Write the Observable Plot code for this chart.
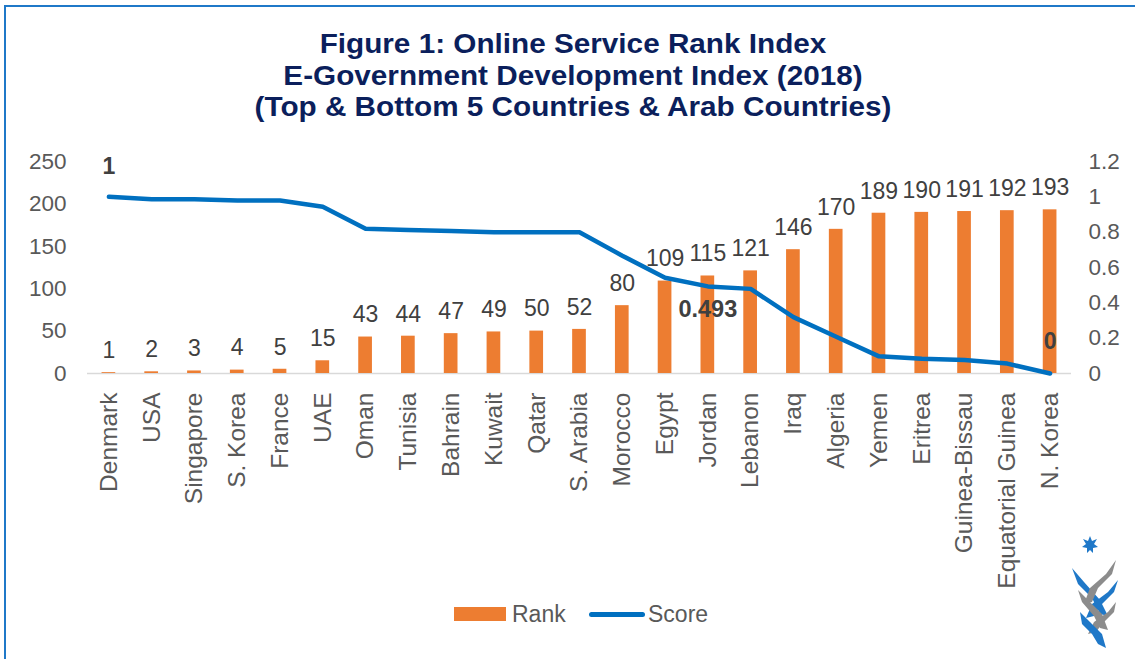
<!DOCTYPE html>
<html>
<head>
<meta charset="utf-8">
<script src="https://cdn.jsdelivr.net/npm/d3@7"></script>
<script src="https://cdn.jsdelivr.net/npm/@observablehq/plot@0.6"></script>
<style>
  html, body { margin: 0; padding: 0; background: #fff; }
  body { width: 1135px; height: 659px; position: relative; overflow: hidden; font-family: "Liberation Sans", Arial, sans-serif; }
  #frame { position: absolute; left: 4px; top: 5px; width: 1140px; height: 700px; border-top: 2px solid #1f78c8; border-left: 2px solid #1f78c8; box-sizing: border-box; }
  #title { position: absolute; left: 0; top: 29px; width: 1146px; text-align: center; color: #0b1f5c; font-weight: bold; font-size: 27px; line-height: 31.5px; transform: scaleX(1.1); transform-origin: 573px 0; }
  #chart { position: absolute; left: 0; top: 140px; }
  #legend { position: absolute; left: 0; top: 600px; width: 1135px; height: 30px; font-size: 23px; color: #595959; }
  #legend .sw { position: absolute; }
  #logo { position: absolute; left: 1062px; top: 530px; }
</style>
</head>
<body>
<div id="frame"></div>
<div id="title">Figure 1: Online Service Rank Index<br>E-Government Development Index (2018)<br>(Top &amp; Bottom 5 Countries &amp; Arab Countries)</div>
<div id="chart"></div>
<div id="legend">
  <div class="sw" style="left:454px;top:7px;width:52px;height:14px;background:#ED7D31"></div>
  <div class="sw" style="left:512px;top:0px;line-height:28px">Rank</div>
  <div class="sw" style="left:589px;top:12px;width:56px;height:5px;border-radius:3px;background:#0070C0"></div>
  <div class="sw" style="left:648px;top:0px;line-height:28px">Score</div>
</div>
<svg id="logo" width="70" height="125" viewBox="0 0 70 125">
  <polygon points="28,6 30,11 35,9 32,14 36,17 31,18 31,23 28,20 25,23 25,18 20,17 24,14 21,9 26,11" fill="#1f78c8"/>
  <polygon points="10,38 22,52 38,70 46,86 38,84 30,68 16,54" fill="#1f78c8"/>
  <polygon points="54,30 44,44 28,58 22,74 30,72 36,58 50,44" fill="#8c8c8c"/>
  <polygon points="56,50 46,62 30,74 24,88 32,86 38,76 52,62" fill="#1f78c8"/>
  <polygon points="16,60 26,70 40,84 46,100 38,98 32,86 20,72" fill="#8c8c8c"/>
  <polygon points="54,72 46,82 32,92 26,104 34,102 40,94 52,82" fill="#8c8c8c"/>
  <polygon points="18,82 28,92 40,104 44,118 36,114 30,104 20,94" fill="#1f78c8"/>
</svg>
<script>
const countries = ["Denmark","USA","Singapore","S. Korea","France","UAE","Oman","Tunisia","Bahrain","Kuwait","Qatar","S. Arabia","Morocco","Egypt","Jordan","Lebanon","Iraq","Algeria","Yemen","Eritrea","Guinea-Bissau","Equatorial Guinea","N. Korea"];
const ranks = [1,2,3,4,5,15,43,44,47,49,50,52,80,109,115,121,146,170,189,190,191,192,193];
const scores = [1,0.986,0.986,0.979,0.979,0.944,0.819,0.812,0.806,0.799,0.799,0.799,0.667,0.542,0.493,0.479,0.319,0.208,0.097,0.083,0.076,0.056,0];
const leftTicks = [0,50,100,150,200,250];
const rightTicks = [0,0.2,0.4,0.6,0.8,1,1.2];
const scoreLabels = [{country:"Denmark", text:"1"},{country:"Jordan", text:"0.493"},{country:"N. Korea", text:"0"}];

const rankMax = 250, scoreMax = 1.2;
const s2r = s => s * rankMax / scoreMax;
const data = countries.map((c, i) => ({country: c, rank: ranks[i], score: scores[i]}));
const labelData = scoreLabels.map(l => ({...l, score: scores[countries.indexOf(l.country)]}));
const fontFam = "'Liberation Sans', Arial, sans-serif";

const chart = Plot.plot({
  width: 1135,
  height: 470,
  marginTop: 21,
  marginBottom: 237,
  marginLeft: 87,
  marginRight: 64,
  style: {fontFamily: fontFam, background: "transparent"},
  x: {domain: countries, paddingInner: 0.68, paddingOuter: 0.34, round: false},
  y: {domain: [0, rankMax]},
  marks: [
    Plot.ruleY([0], {stroke: "#d9d9d9", strokeWidth: 1.5}),
    Plot.barY(data, {x: "country", y: "rank", fill: "#ED7D31"}),
    Plot.text(data, {x: "country", y: "rank", text: d => String(d.rank), dy: -22, fontSize: 23, fill: "#404040"}),
    Plot.lineY(data, {x: "country", y: d => s2r(d.score), stroke: "#0070C0", strokeWidth: 4.5, strokeLinejoin: "round", strokeLinecap: "round"}),
    Plot.text(labelData.filter(d => d.country === "Denmark"), {x: "country", y: d => s2r(d.score), text: "text", dy: -30, fontSize: 23, fontWeight: "bold", fill: "#404040"}),
    Plot.text(labelData.filter(d => d.country === "Jordan"), {x: "country", y: d => s2r(d.score), text: "text", dy: 23, fontSize: 23.5, fontWeight: "bold", fill: "#404040"}),
    Plot.text(labelData.filter(d => d.country === "N. Korea"), {x: "country", y: d => s2r(d.score), text: "text", dy: -32, fontSize: 23, fontWeight: "bold", fill: "#404040"}),
    Plot.axisY(leftTicks, {anchor: "left", tickSize: 0, tickPadding: 21, fontSize: 22.5, fill: "#595959", label: null}),
    Plot.axisY(rightTicks.map(s2r), {anchor: "right", tickSize: 0, tickPadding: 17, fontSize: 22.5, fill: "#595959", label: null, tickFormat: d => String(Math.round(d * scoreMax / rankMax * 10) / 10)}),
    Plot.axisX({tickRotate: -90, tickSize: 0, tickPadding: 19, fontSize: 24.5, fill: "#595959", label: null})
  ]
});
document.getElementById("chart").appendChild(chart);
</script>
</body>
</html>
